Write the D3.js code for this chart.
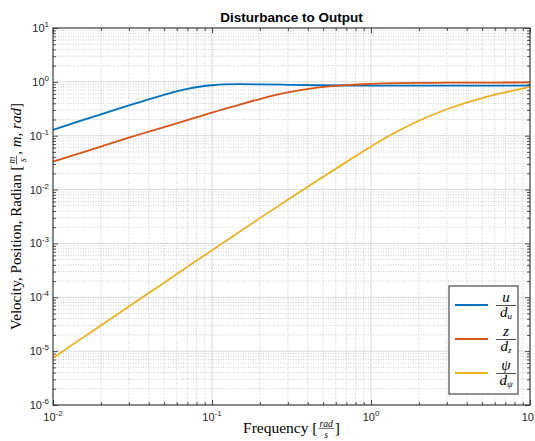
<!DOCTYPE html>
<html>
<head>
<meta charset="utf-8">
<script src="https://cdn.jsdelivr.net/npm/d3@7"></script>
<style>
body { margin: 0; background: #fff; }
svg { display: block; }
</style>
</head>
<body>
<svg id="chart" width="535" height="441"></svg>
<script>
// frequencies (rad/s) and magnitudes
const freq   = [0.01, 0.015, 0.02, 0.03, 0.04, 0.05, 0.06, 0.07, 0.085, 0.1, 0.12, 0.15, 0.2, 0.3, 0.46, 0.74, 1, 1.5, 2, 3, 5, 7, 10];
const velU   = [0.128, 0.19, 0.25, 0.365, 0.475, 0.575, 0.665, 0.74, 0.82, 0.865, 0.895, 0.905, 0.9, 0.882, 0.865, 0.855, 0.853, 0.852, 0.852, 0.852, 0.852, 0.852, 0.852];
const posZ   = [0.033, 0.048, 0.063, 0.092, 0.119, 0.145, 0.17, 0.195, 0.232, 0.268, 0.315, 0.38, 0.48, 0.635, 0.78, 0.88, 0.915, 0.945, 0.955, 0.965, 0.97, 0.972, 0.975];
const angPsi = [7.5e-6, 1.69e-5, 3.0e-5, 6.75e-5, 1.2e-4, 1.87e-4, 2.7e-4, 3.67e-4, 5.4e-4, 7.45e-4, 1.07e-3, 1.67e-3, 2.95e-3, 6.5e-3, 0.0148, 0.036, 0.063, 0.125, 0.19, 0.31, 0.5, 0.64, 0.81];
const legendNum = ['u', 'z', 'ψ'];
const legendSub = ['u', 'z', 'ψ'];
const lineColors = ['#0072BD', '#D95319', '#EDB120'];

const svg = d3.select('#chart');
const L = 53, R = 530, T = 28, B = 405;
const axisColor = '#262626';
const sans = 'Helvetica, Arial, "Liberation Sans", sans-serif';
const serif = '"Liberation Serif", "DejaVu Serif", serif';

let x = d3.scaleLog().domain([1e-2, 1e1]).range([L, R]);
let y = d3.scaleLog().domain([1e-6, 1e1]).range([B, T]);

function isMajor(v) {
    let e = Math.log10(v);
    return Math.abs(e - Math.round(e)) < 1e-9;
}
let xTicks = x.ticks(), yTicks = y.ticks();
let xMinor = xTicks.filter(v => !isMajor(v)), xMajor = xTicks.filter(isMajor);
let yMinor = yTicks.filter(v => !isMajor(v)), yMajor = yTicks.filter(isMajor);

// grid: dotted minor, solid major
let grid = svg.append('g');
grid.selectAll('.gxm').data(xMinor).enter().append('line')
    .attr('x1', d => x(d)).attr('x2', d => x(d)).attr('y1', T).attr('y2', B)
    .attr('stroke', '#bdbdbd').attr('stroke-width', 0.7).attr('stroke-dasharray', '1,1.5');
grid.selectAll('.gym').data(yMinor).enter().append('line')
    .attr('y1', d => y(d)).attr('y2', d => y(d)).attr('x1', L).attr('x2', R)
    .attr('stroke', '#bdbdbd').attr('stroke-width', 0.7).attr('stroke-dasharray', '1,1.5');
grid.selectAll('.gxM').data(xMajor).enter().append('line')
    .attr('x1', d => x(d)).attr('x2', d => x(d)).attr('y1', T).attr('y2', B)
    .attr('stroke', '#d8d8d8').attr('stroke-width', 1);
grid.selectAll('.gyM').data(yMajor).enter().append('line')
    .attr('y1', d => y(d)).attr('y2', d => y(d)).attr('x1', L).attr('x2', R)
    .attr('stroke', '#d8d8d8').attr('stroke-width', 1);

// inward ticks on all four sides
function ticks(axis, tr, vals, size) {
    let g = svg.append('g').attr('transform', tr)
        .call(axis.tickValues(vals).tickSize(-size).tickSizeOuter(0).tickFormat(''));
    g.select('.domain').remove();
    g.selectAll('line').attr('stroke', axisColor).attr('stroke-width', 0.8);
}
ticks(d3.axisBottom(x), `translate(0,${B})`, xMinor, 3);
ticks(d3.axisBottom(x), `translate(0,${B})`, xMajor, 5);
ticks(d3.axisTop(x), `translate(0,${T})`, xMinor, 3);
ticks(d3.axisTop(x), `translate(0,${T})`, xMajor, 5);
ticks(d3.axisLeft(y), `translate(${L},0)`, yMinor, 3);
ticks(d3.axisLeft(y), `translate(${L},0)`, yMajor, 5);
ticks(d3.axisRight(y), `translate(${R},0)`, yMinor, 3);
ticks(d3.axisRight(y), `translate(${R},0)`, yMajor, 5);

// curves
let line = d3.line().x(d => x(d[0])).y(d => y(d[1])).curve(d3.curveMonotoneX);
let plot = svg.append('g');
[velU, posZ, angPsi].forEach(function(vals, i) {
    plot.append('path')
        .attr('d', line(freq.map((f, k) => [f, vals[k]])))
        .attr('fill', 'none')
        .attr('stroke', lineColors[i])
        .attr('stroke-width', 1.8);
});

// box
svg.append('rect').attr('x', L).attr('y', T).attr('width', R - L).attr('height', B - T)
    .attr('fill', 'none').attr('stroke', axisColor).attr('stroke-width', 1);

// tick labels 10^n
function powLabel(px, py, v, anchor) {
    let t = svg.append('text').attr('x', px).attr('y', py)
        .attr('font-family', sans).attr('font-size', 11).attr('fill', axisColor)
        .attr('text-anchor', anchor);
    t.append('tspan').text('10');
    t.append('tspan').attr('font-size', 8).attr('dy', -5).text(Math.round(Math.log10(v)));
}
xMajor.forEach(v => powLabel(x(v), 421, v, 'middle'));
yMajor.forEach(v => powLabel(49, y(v) + 4, v, 'end'));

// title
svg.append('text').attr('x', (L + R) / 2).attr('y', 22)
    .attr('text-anchor', 'middle').attr('font-family', sans)
    .attr('font-weight', 'bold').attr('font-size', 13.5).attr('fill', '#000')
    .text('Disturbance to Output');

// LaTeX-like labels built from pieces: strings, {t} italic, {num, den} fractions
function mathLabel(g, pieces, size) {
    let cx = 0;
    pieces.forEach(function(p) {
        if (p.num) {
            let fs = size * 0.62;
            let n = g.append('text').attr('font-family', serif).attr('font-style', 'italic')
                .attr('font-size', fs).attr('text-anchor', 'middle').text(p.num);
            let d = g.append('text').attr('font-family', serif).attr('font-style', 'italic')
                .attr('font-size', fs).attr('text-anchor', 'middle').text(p.den);
            let w = Math.max(n.node().getComputedTextLength(), d.node().getComputedTextLength()) + 2;
            n.attr('x', cx + 1 + w / 2).attr('y', -size * 0.4);
            d.attr('x', cx + 1 + w / 2).attr('y', size * 0.3);
            g.append('line').attr('x1', cx + 1).attr('x2', cx + 1 + w)
                .attr('y1', -size * 0.3).attr('y2', -size * 0.3)
                .attr('stroke', '#000').attr('stroke-width', 0.6);
            cx += w + 2;
        } else {
            let italic = typeof p === 'object';
            let t = g.append('text').attr('x', cx).attr('font-family', serif)
                .attr('font-size', size).attr('fill', '#000')
                .attr('font-style', italic ? 'italic' : 'normal')
                .attr('xml:space', 'preserve')
                .text(italic ? p.t : p);
            cx += t.node().getComputedTextLength();
        }
    });
    return cx;
}

let yl = svg.append('g');
let ylw = mathLabel(yl, ['Velocity, Position, Radian [', {num: 'm', den: 's'}, {t: ', m, rad'}, ']'], 15);
yl.attr('transform', `translate(21,${(T + B) / 2}) rotate(-90) translate(${-ylw / 2},0)`);

let xl = svg.append('g');
let xlw = mathLabel(xl, ['Frequency [', {num: 'rad', den: 's'}, ']'], 15.5);
xl.attr('transform', `translate(${(L + R) / 2 - xlw / 2},433)`);

// legend
let lg = svg.append('g');
lg.append('rect').attr('x', 449).attr('y', 286).attr('width', 69).attr('height', 108)
    .attr('fill', '#fff').attr('stroke', axisColor).attr('stroke-width', 1);
legendNum.forEach(function(num, i) {
    let ly = 305 + i * 34;
    lg.append('line').attr('x1', 455).attr('x2', 488).attr('y1', ly).attr('y2', ly)
        .attr('stroke', lineColors[i]).attr('stroke-width', 1.8);
    lg.append('text').attr('x', 506).attr('y', ly - 3).attr('text-anchor', 'middle')
        .attr('font-family', serif).attr('font-style', 'italic').attr('font-size', 15)
        .text(num);
    lg.append('line').attr('x1', 496).attr('x2', 516).attr('y1', ly + 0.5).attr('y2', ly + 0.5)
        .attr('stroke', '#000').attr('stroke-width', 0.7);
    let d = lg.append('text').attr('x', 506).attr('y', ly + 12).attr('text-anchor', 'middle')
        .attr('font-family', serif).attr('font-style', 'italic').attr('font-size', 15);
    d.append('tspan').text('d');
    d.append('tspan').attr('font-size', 9).attr('dy', 2).text(legendSub[i]);
});
</script>
</body>
</html>
